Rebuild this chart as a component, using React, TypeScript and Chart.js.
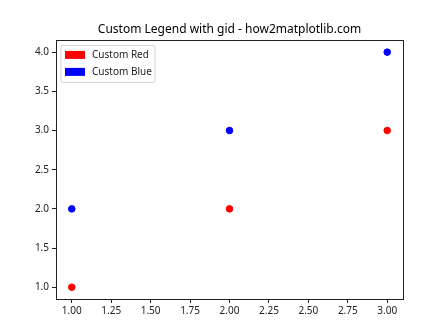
import React, { useEffect, useRef } from "react";
import { Chart, registerables } from "chart.js";

Chart.register(...registerables);

const xValues = [1, 2, 3];
const redValues = [1, 2, 3];
const blueValues = [2, 3, 4];
const xTicks = [1.0, 1.25, 1.5, 1.75, 2.0, 2.25, 2.5, 2.75, 3.0];
const yTicks = [1.0, 1.5, 2.0, 2.5, 3.0, 3.5, 4.0];
const legendLabels = ["Custom Red", "Custom Blue"];
const colors = ["#ff0000", "#0000ff"];
const FONT = "'Noto Sans', 'DejaVu Sans', sans-serif";

const framePlugin = {
  id: "frame",
  afterDraw(chart: any) {
    const { ctx, chartArea } = chart;
    const { left, right, top, bottom } = chartArea;
    ctx.save();
    ctx.strokeStyle = "#222";
    ctx.lineWidth = 1;
    ctx.strokeRect(Math.round(left) + 0.5, Math.round(top) + 0.5, Math.round(right - left), Math.round(bottom - top));
    // legend
    const lx = left + 5, ly = top + 5, lw = 94, lh = 37;
    ctx.fillStyle = "rgba(255,255,255,0.8)";
    ctx.strokeStyle = "#d0d0d0";
    ctx.beginPath();
    const r = 2;
    ctx.moveTo(lx + r, ly);
    ctx.arcTo(lx + lw, ly, lx + lw, ly + lh, r);
    ctx.arcTo(lx + lw, ly + lh, lx, ly + lh, r);
    ctx.arcTo(lx, ly + lh, lx, ly, r);
    ctx.arcTo(lx, ly, lx + lw, ly, r);
    ctx.closePath();
    ctx.fill();
    ctx.stroke();
    ctx.font = `10px ${FONT}`;
    ctx.textBaseline = "middle";
    legendLabels.forEach((lab, i) => {
      const cy = ly + 9.5 + i * 17;
      ctx.fillStyle = colors[i];
      ctx.fillRect(lx + 4, cy - 4, 20, 8);
      ctx.fillStyle = "#222";
      ctx.fillText(lab, lx + 31, cy);
    });
    ctx.restore();
  },
};

export default function App() {
  const ref = useRef<HTMLCanvasElement>(null);
  useEffect(() => {
    if (!ref.current) return;
    const chart = new Chart(ref.current, {
      type: "scatter",
      data: {
        datasets: [
          {
            label: legendLabels[0],
            data: xValues.map((x, i) => ({ x, y: redValues[i] })),
            backgroundColor: colors[0],
            borderColor: colors[0],
            pointRadius: 3.3,
            pointHoverRadius: 3.3,
          },
          {
            label: legendLabels[1],
            data: xValues.map((x, i) => ({ x, y: blueValues[i] })),
            backgroundColor: colors[1],
            borderColor: colors[1],
            pointRadius: 3.3,
            pointHoverRadius: 3.3,
          },
        ],
      },
      options: {
        responsive: false,
        animation: false,
        layout: { padding: { left: 0, right: 45, top: 0, bottom: 0 } },
        plugins: {
          legend: { display: false },
          tooltip: { enabled: false },
          title: {
            display: true,
            fullSize: false,
            text: "Custom Legend with gid - how2matplotlib.com",
            color: "#000",
            font: { family: FONT, size: 12, weight: "normal" },
            padding: { top: 22, bottom: 4 },
          },
        },
        scales: {
          x: {
            type: "linear",
            min: 0.9,
            max: 3.1,
            afterBuildTicks: (s: any) => {
              s.ticks = xTicks.map((v) => ({ value: v }));
            },
            afterFit: (s: any) => {
              s.height = 37;
            },
            grid: { drawOnChartArea: false, drawTicks: true, tickLength: 4, color: "#222" },
            border: { display: true, color: "#222" },
            ticks: {
              color: "#222",
              padding: 2,
              maxRotation: 0,
              autoSkip: false,
              font: { family: FONT, size: 10 },
              callback: (v: any) => Number(v).toFixed(2),
            },
          },
          y: {
            type: "linear",
            min: 0.85,
            max: 4.15,
            afterBuildTicks: (s: any) => {
              s.ticks = yTicks.map((v) => ({ value: v }));
            },
            afterFit: (s: any) => {
              s.width = 56;
            },
            grid: { drawOnChartArea: false, drawTicks: true, tickLength: 4, color: "#222" },
            border: { display: true, color: "#222" },
            ticks: {
              color: "#222",
              padding: 3,
              autoSkip: false,
              font: { family: FONT, size: 10 },
              callback: (v: any) => Number(v).toFixed(1),
            },
          },
        },
      },
      plugins: [framePlugin],
    });
    return () => chart.destroy();
  }, []);
  return (
    <div style={{ position: "fixed", left: 0, top: 0, width: 448, height: 336, background: "#fff" }}>
      <canvas ref={ref} width={448} height={336} style={{ width: 448, height: 336 }} />
    </div>
  );
}
